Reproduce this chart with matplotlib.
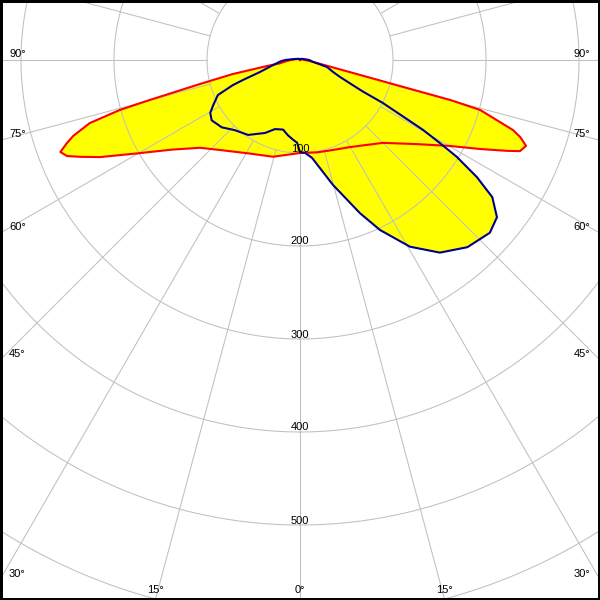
import numpy as np
import matplotlib
matplotlib.use("Agg")
import matplotlib.pyplot as plt

# polar light distribution, cd/klm
# gamma in degrees from nadir, negative = left half of the diagram
# red: C0-C180 plane, blue: C90-C270 plane
c0_gamma = [-180, -120, -100, -90, -85, -80.6, -79.7, -78.2, -76.5, -75.1, -74.5,
            -73.3, -71.5, -70.4, -69, -67.6, -66.2, -64.1, -59.8, -55, -48.7, -40,
            -28, -15.6, -8, 0, 10.5, 20, 29.9, 45, 54.3, 60.2, 63.7, 66.3, 67.5,
            69.2, 70.7, 71.8, 74.5, 75.1, 75.4, 75.8, 76.8, 80, 85, 90, 100, 120, 180]
c0_cd = [0, 2, 5, 10, 15, 22, 36, 74, 111, 167, 201,
         236, 257, 266, 276, 271, 258, 239, 199, 168, 143, 127,
         114, 108, 103, 100, 101, 103, 108, 126, 155, 186, 216, 243, 256,
         260, 251, 241, 201, 167, 111, 78, 44, 19, 9, 5, 3, 1, 0]

c90_gamma = [-180, -130, -100, -90, -86, -78, -73.3, -70.7, -69.5, -66.9, -62.6,
             -59.5, -55.7, -49.3, -42.9, -34.7, -25.6, -19.9, -13.7, -9.1, -5, -2,
             0, 3.1, 7, 14.8, 21.4, 25.2, 30.5, 36, 41.8, 47.7, 51.4, 54.5, 56.5,
             58.3, 59.3, 60.4, 62.6, 63.4, 65, 67, 70, 75.5, 82, 90, 100, 130, 180]
c90_cd = [1, 2, 6, 16, 21, 32, 45, 65, 77, 96, 105,
          112, 115, 111, 103, 98, 87, 79, 77, 82, 86, 89,
          99, 100, 106, 139, 177, 202, 233, 256, 270, 276, 271, 254, 228,
          198, 175, 152, 100, 75, 59, 47, 38, 30, 14, 10, 5, 2, 1]

ring_values = [100, 200, 300, 400, 500, 600]
ring_labels = ["100", "200", "300", "400", "500", ""]
angle_ticks = [90, 75, 60, 45, 30, 15, 0]

R_MAX = 700
PX_PER_CD = 0.93          # 100 cd/klm = 93 px
CENTER_PX = (300, 540)    # pole, pixels from lower left
W, H = 600, 600
grid_col = "#c0c0c0"

plt.rcParams["font.family"] = ["Liberation Sans", "DejaVu Sans"]
plt.rcParams["font.size"] = 8

fig = plt.figure(figsize=(6, 6), dpi=100)
size = 2 * R_MAX * PX_PER_CD
ax = fig.add_axes([(CENTER_PX[0] - size / 2) / W, (CENTER_PX[1] - size / 2) / H,
                   size / W, size / H], projection="polar")
ax.set_theta_zero_location("S")
ax.set_theta_direction(1)
ax.set_ylim(0, R_MAX)
ax.grid(False)
ax.set_xticks([])
ax.set_yticks([])
ax.spines["polar"].set_visible(False)

# yellow areas
ax.fill(np.radians(c0_gamma), c0_cd, color="#ffff00", lw=0, zorder=1)
ax.fill(np.radians(c90_gamma), c90_cd, color="#ffff00", lw=0, zorder=1)

# grid: rings and radial lines starting at the first ring
th = np.linspace(0, 2 * np.pi, 721)
for r in ring_values:
    ax.plot(th, np.full_like(th, r), color=grid_col, lw=0.75, zorder=2)
for a in range(0, 360, 15):
    ax.plot([np.radians(a)] * 2, [ring_values[0], R_MAX], color=grid_col, lw=0.75, zorder=2)

ax.plot(np.radians(c0_gamma), c0_cd, color="#ff0000", lw=1.5, zorder=3)
ax.plot(np.radians(c90_gamma), c90_cd, color="#00008c", lw=1.5, zorder=4)

for r, lab in zip(ring_values, ring_labels):
    ax.annotate(lab, xy=(0, r), xytext=(0, 1.5), textcoords="offset pixels",
                ha="center", va="baseline", zorder=5)

# angle labels where the radial lines leave the picture
cx, cy = CENTER_PX
for a in angle_ticks:
    for side in (-1, 1):
        if a == 0 and side == 1:
            continue
        s, c = np.sin(np.radians(a)), np.cos(np.radians(a))
        t_side = (W / 2) / s if s > 1e-9 else 1e9
        t_bot = cy / c if c > 1e-9 else 1e9
        if t_side <= t_bot:
            y = cy - t_side * c + 3
            if side < 0:
                fig.text(9 / W, y / H, "%d°" % a, ha="left", va="baseline")
            else:
                fig.text(590 / W, y / H, "%d°" % a, ha="right", va="baseline")
        else:
            x = cx + side * t_bot * s
            fig.text(x / W, 7 / H, "%d°" % a, ha="center", va="baseline")

fig.add_artist(plt.Rectangle((0, 0), 1, 1, transform=fig.transFigure, fill=False,
                             edgecolor="black", linewidth=3.6))

fig.savefig("out.png", dpi=100, facecolor="white")
